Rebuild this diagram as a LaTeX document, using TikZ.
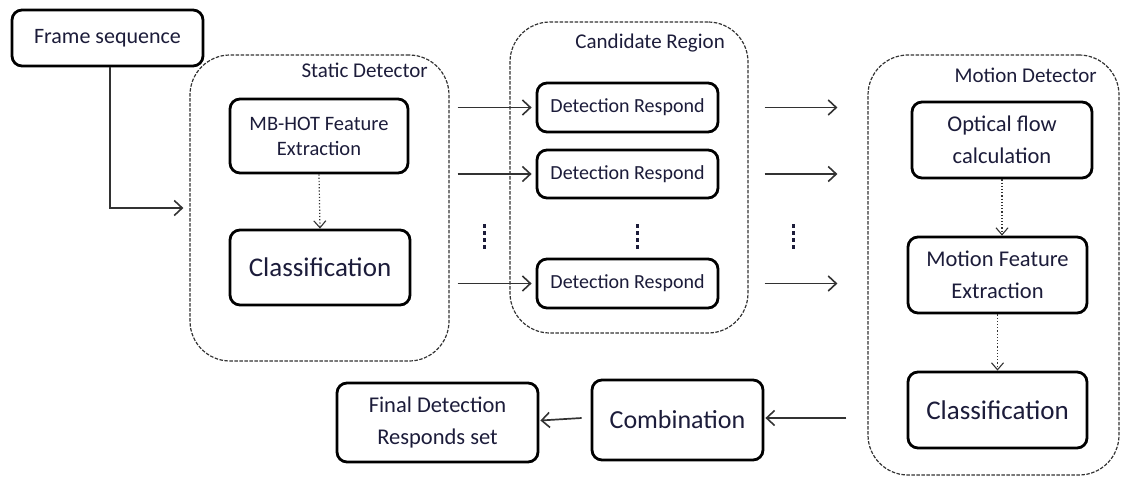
\documentclass[tikz,border=0pt]{standalone}
\usepackage{fontspec}
\setmainfont{Carlito}
\usetikzlibrary{arrows.meta,calc}
\definecolor{txt}{RGB}{28,28,58}
\definecolor{ln}{RGB}{50,50,50}
\begin{document}
\begin{tikzpicture}[x=1pt,y=-1pt,
  box/.style={draw=black,line width=2.8pt,rounded corners=10pt,fill=white,text=txt,align=center,inner sep=0pt},
  cont/.style={draw=black!80,line width=1.2pt,rounded corners=40pt,dash pattern=on 3.5pt off 1.5pt},
  clabel/.style={text=txt,font=\fontsize{21}{24}\selectfont,inner sep=0pt},
  arr/.style={draw=ln,line width=1.7pt,-{Straight Barb[length=8pt,width=15pt,line width=1.6pt]}},
  darr/.style={draw=ln,line width=1.2pt,dotted,-{Straight Barb[length=7pt,width=12pt,line width=1.1pt]}},
  vdots/.style={draw=txt,line width=3pt,dash pattern=on 3.5pt off 3.5pt}
]
\useasboundingbox (0,0) rectangle (1121,477);
% containers
\node[cont,minimum width=259,minimum height=306] (static) at (319.5,208) {};
\node[cont,minimum width=238,minimum height=311] (cand) at (629,177.5) {};
\node[cont,minimum width=251,minimum height=420] (motion) at (993.5,265) {};
\node[clabel,anchor=east] (lstatic) at (428,70) {Static Detector};
\node[clabel,anchor=east] (lcand) at (725,43) {Candidate Region};
\node[clabel,anchor=east] (lmotion) at (1097,75) {Motion Detector};
% boxes
\node[box,minimum width=191,minimum height=56,font=\fontsize{22}{25}\selectfont] (frame) at (107.5,38) {Frame sequence};
\node[box,minimum width=178,minimum height=74,font=\fontsize{20.5}{25}\selectfont] (mbhot) at (319,136) {MB-HOT Feature\\Extraction};
\node[box,minimum width=180,minimum height=75,font=\fontsize{27}{30}\selectfont] (cls1) at (320,267.5) {Classification};
\node[box,minimum width=181,minimum height=49,font=\fontsize{20}{24}\selectfont] (dr1) at (627.5,107.5) {Detection Respond};
\node[box,minimum width=181,minimum height=48,font=\fontsize{20}{24}\selectfont] (dr2) at (627.5,174) {Detection Respond};
\node[box,minimum width=181,minimum height=49,font=\fontsize{20}{24}\selectfont] (dr3) at (627.5,283.5) {Detection Respond};
\node[box,minimum width=180,minimum height=76,font=\fontsize{22.5}{32}\selectfont] (opt) at (1002,140) {Optical flow\\calculation};
\node[box,minimum width=179,minimum height=76,font=\fontsize{22.5}{32}\selectfont] (mfe) at (997.5,275) {Motion Feature\\Extraction};
\node[box,minimum width=179,minimum height=76,font=\fontsize{27}{30}\selectfont] (cls2) at (997.5,410) {Classification};
\node[box,minimum width=171,minimum height=80,font=\fontsize{26}{30}\selectfont] (comb) at (677.5,420) {Combination};
\node[box,minimum width=201,minimum height=79,font=\fontsize{22.5}{32}\selectfont] (final) at (437.5,422.5) {Final Detection\\Responds set};
% arrows
\draw[arr] ([xshift=2.5pt]frame.south) |- ([xshift=-6pt]static.west);
\draw[darr] (mbhot.south) -- (cls1.north);
\draw[darr] (opt.south) -- (opt.south |- mfe.north);
\draw[darr] (mfe.south) -- (cls2.north);
\foreach \d in {dr1,dr2,dr3}{
  \draw[arr] ($(static.east |- \d.west)+(8,0)$) -- ($(\d.west)+(-4,0)$);
  \draw[arr] ($(cand.east |- \d.east)+(16,0)$) -- ($(motion.west |- \d.east)+(-30,0)$);
}
\draw[arr] ($(motion.west |- comb.east)+(-21,-2)$) -- ($(comb.east)+(1,-2)$);
\draw[arr] ($(comb.west)+(-9,-2)$) -- ($(final.east)+(1,-2)$);
% vertical dots
\draw[vdots] (484,224) -- (484,252);
\draw[vdots] (637,224) -- (637,252);
\draw[vdots] (793,224) -- (793,252);
\end{tikzpicture}
\end{document}
